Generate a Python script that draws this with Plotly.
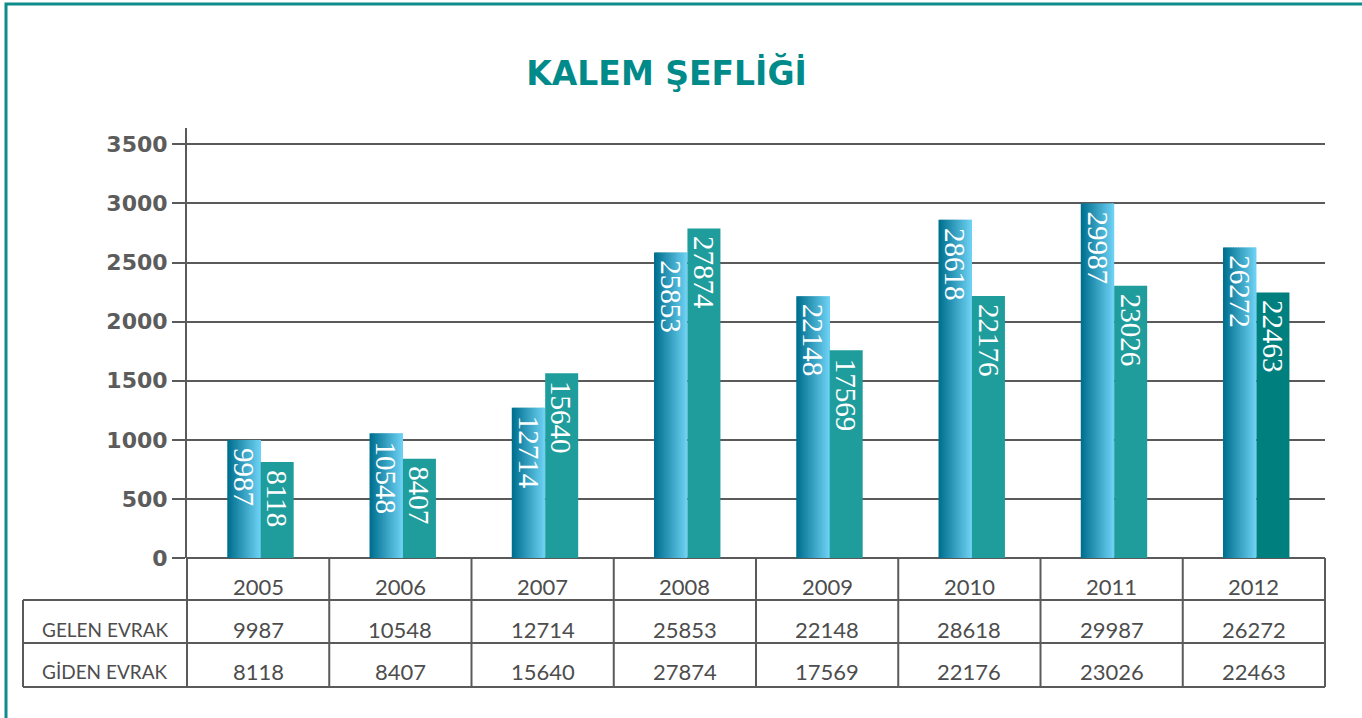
import plotly.graph_objects as go

# ---- data -------------------------------------------------------------
years = ["2005", "2006", "2007", "2008", "2009", "2010", "2011", "2012"]
gelen_evrak = [9987, 10548, 12714, 25853, 22148, 28618, 29987, 26272]
giden_evrak = [8118, 8407, 15640, 27874, 17569, 22176, 23026, 22463]
row_labels = ["GELEN EVRAK", "GİDEN EVRAK"]
tick_values = [0, 5000, 10000, 15000, 20000, 25000, 30000, 35000]
tick_labels = ["0", "500", "1000", "1500", "2000", "2500", "3000", "3500"]

# ---- style ------------------------------------------------------------
W, H = 1362, 718
ML, MR, MT, MB = 187, 37, 128, 160
PW, PH = W - ML - MR, H - MT - MB
TEAL = "#0e8b8b"
GRID = "#5a5a5a"
TEXT = "#4d4d4d"
GIDEN_COLORS = ["#1f9c9c"] * 7 + ["#007f7f"]
GRAD_LEFT = (0, 112, 143)
GRAD_RIGHT = (108, 208, 243)
N_SLICES = 20

GELEN_OFF, GELEN_W = -0.217, 0.235
GIDEN_OFF, GIDEN_W = 0.018, 0.232


def px_x(p):
    return (p - ML) / PW


def px_y(p):
    return (H - MB - p) / PH


xpos = list(range(len(years)))
fig = go.Figure()

# Incoming documents: a horizontal gradient built from thin vertical strips
step = GELEN_W / N_SLICES
for k in range(N_SLICES):
    t = k / (N_SLICES - 1)
    rgb = tuple(round(a + (b - a) * t) for a, b in zip(GRAD_LEFT, GRAD_RIGHT))
    off = GELEN_OFF + k * step
    width = min(step * 1.6, GELEN_OFF + GELEN_W - off)
    fig.add_trace(go.Bar(
        x=xpos, y=gelen_evrak, offset=off, width=width,
        marker=dict(color="rgb(%d,%d,%d)" % rgb, line=dict(width=0)),
        showlegend=False, hoverinfo="skip",
    ))

# Outgoing documents
fig.add_trace(go.Bar(
    x=xpos, y=giden_evrak, offset=GIDEN_OFF, width=GIDEN_W,
    marker=dict(color=GIDEN_COLORS, line=dict(width=0)),
    showlegend=False, hoverinfo="skip",
))

annotations = []
label_font = dict(family="Liberation Sans Narrow", size=29, color="white")
for i in xpos:
    annotations.append(dict(
        x=i + GELEN_OFF + GELEN_W / 2, y=gelen_evrak[i], xref="x", yref="y",
        text=str(gelen_evrak[i]), textangle=90, showarrow=False,
        xanchor="center", yanchor="top", yshift=-6, font=label_font))
    annotations.append(dict(
        x=i + GIDEN_OFF + GIDEN_W / 2, y=giden_evrak[i], xref="x", yref="y",
        text=str(giden_evrak[i]), textangle=90, showarrow=False,
        xanchor="center", yanchor="top", yshift=-6, font=label_font))

# Data table under the chart
table_font = dict(family="Lato", size=22, color=TEXT)
row_centers = [586, 629.5, 671]
for i in xpos:
    annotations.append(dict(x=i, y=px_y(row_centers[0]), xref="x", yref="paper",
                            text=years[i], showarrow=False, yanchor="middle",
                            font=table_font))
    annotations.append(dict(x=i, y=px_y(row_centers[1]), xref="x", yref="paper",
                            text=str(gelen_evrak[i]), showarrow=False,
                            yanchor="middle", font=table_font))
    annotations.append(dict(x=i, y=px_y(row_centers[2]), xref="x", yref="paper",
                            text=str(giden_evrak[i]), showarrow=False,
                            yanchor="middle", font=table_font))
for r, lab in enumerate(row_labels):
    annotations.append(dict(x=px_x(40), y=px_y(row_centers[r + 1]), xref="paper",
                            yref="paper", text=lab, showarrow=False,
                            xanchor="left", yanchor="middle",
                            font=dict(family="Lato", size=19, color=TEXT)))

line = dict(color=GRID, width=2)
shapes = []
y_head, y_r1, y_r2 = px_y(600), px_y(643), px_y(687)
x_lab = px_x(23)
# horizontal rules
for yy in (y_head, y_r1, y_r2):
    shapes.append(dict(type="line", xref="paper", yref="paper",
                       x0=x_lab, x1=1, y0=yy, y1=yy, line=line))
# column separators
n = len(years)
for k in range(n + 1):
    shapes.append(dict(type="line", xref="paper", yref="paper",
                       x0=k / n, x1=k / n, y0=0, y1=y_r2, line=line))
shapes.append(dict(type="line", xref="paper", yref="paper",
                   x0=x_lab, x1=x_lab, y0=y_head, y1=y_r2, line=line))
# outer frame
shapes.append(dict(type="rect", xref="paper", yref="paper",
                   x0=px_x(6), x1=px_x(W + 20), y0=px_y(4), y1=px_y(H + 20),
                   line=dict(color=TEAL, width=3), layer="below"))

fig.update_layout(
    width=W, height=H,
    margin=dict(l=ML, r=MR, t=MT, b=MB, autoexpand=False),
    paper_bgcolor="white", plot_bgcolor="white",
    barmode="overlay",
    title=dict(text="<b>KALEM ŞEFLİĞİ</b>", x=666.5 / W, xref="container",
               xanchor="center", y=1 - 73 / H, yref="container", yanchor="middle",
               font=dict(family="DejaVu Sans", size=33, color="#008a8a")),
    xaxis=dict(range=[-0.5, n - 0.5], showticklabels=False, showgrid=False,
               zeroline=False, showline=False, fixedrange=True),
    yaxis=dict(range=[0, 36380], tickvals=tick_values, ticktext=tick_labels,
               showgrid=True, gridcolor=GRID, gridwidth=2,
               zeroline=True, zerolinecolor=GRID, zerolinewidth=2,
               showline=True, linecolor=GRID, linewidth=2,
               ticks="outside", ticklen=13, tickwidth=2, tickcolor=GRID,
               tickfont=dict(family="DejaVu Sans", size=22, color="#5c5c5c",
                             weight="bold"),
               fixedrange=True),
    annotations=annotations,
    shapes=shapes,
)

fig.write_html("out.html")
